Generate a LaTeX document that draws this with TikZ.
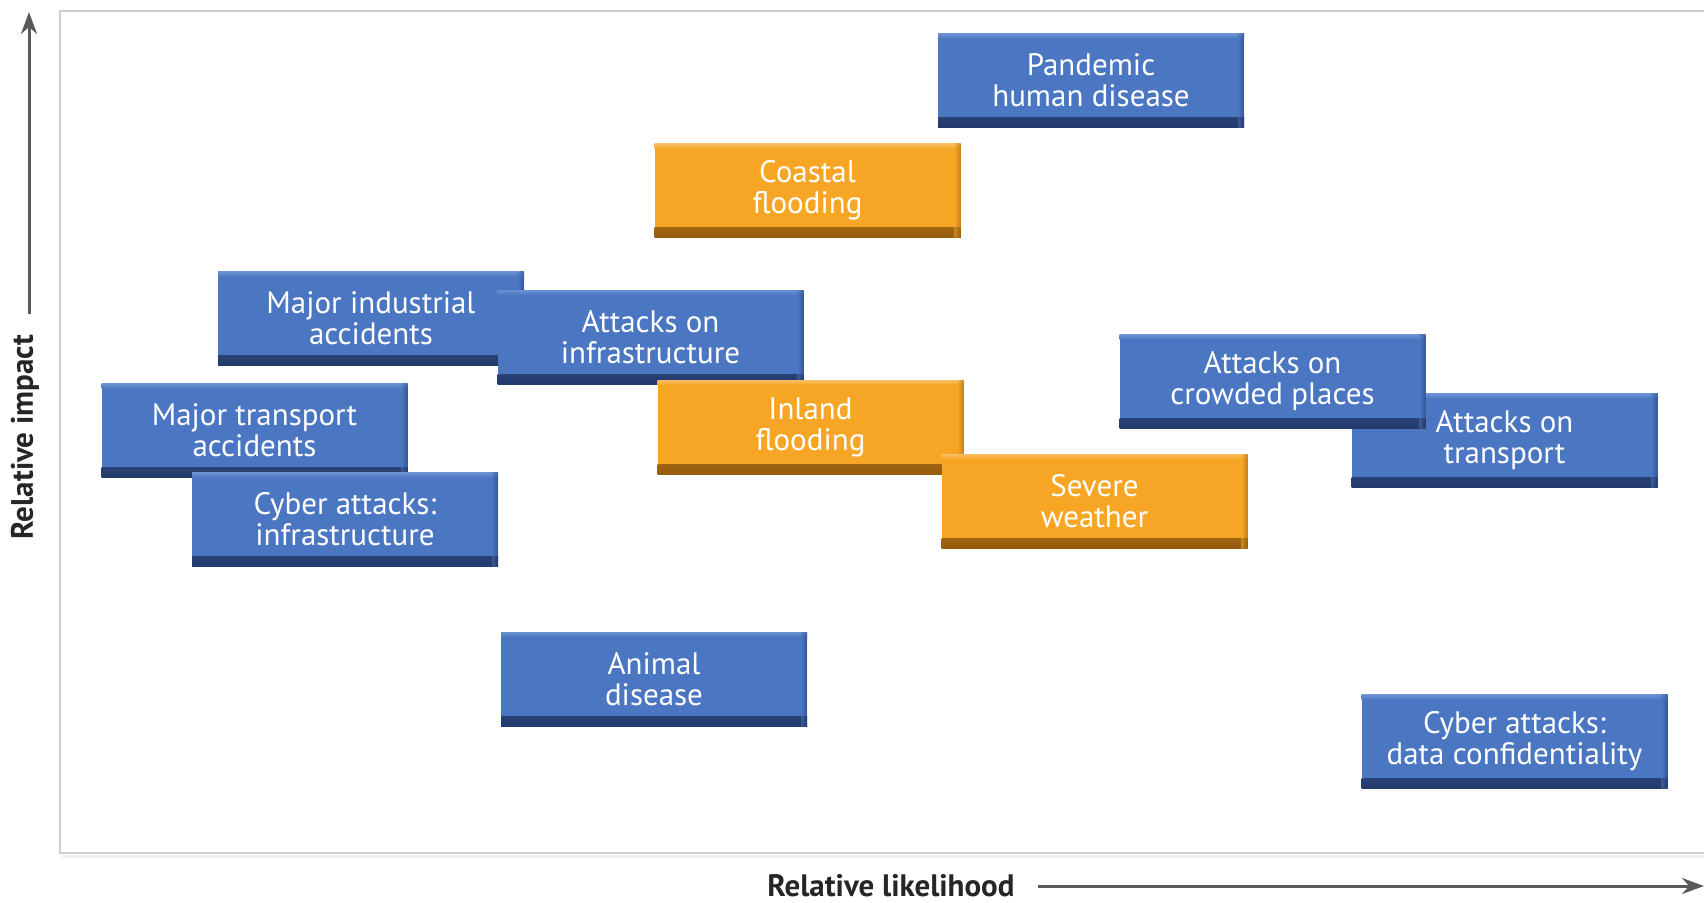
\documentclass[tikz,border=0pt]{standalone}
\usepackage{fontspec}
\setmainfont{PT Sans}
\usetikzlibrary{arrows.meta}
\definecolor{bmain}{RGB}{74,118,194}
\definecolor{bdark}{RGB}{36,58,108}
\definecolor{blight}{RGB}{108,146,212}
\definecolor{omain}{RGB}{246,166,36}
\definecolor{odark}{RGB}{150,92,14}
\definecolor{olight}{RGB}{250,192,100}
\definecolor{framegray}{RGB}{205,205,205}
\definecolor{axisgray}{RGB}{90,90,90}
\tikzset{
  riskbox/.style={rectangle, minimum width=153pt, minimum height=47pt, inner sep=0pt,
    align=center, text=white, font=\fontsize{15.5}{15.5}\selectfont,
    fill=#1main,
    path picture={
      \shade[top color=#1main, bottom color=#1dark]
        ([yshift=5pt]path picture bounding box.south west) rectangle (path picture bounding box.south east);
      \shade[top color=#1light, bottom color=#1main]
        (path picture bounding box.north west) rectangle ([yshift=-2.5pt]path picture bounding box.north east);
      \shade[left color=#1main, right color=#1dark, opacity=0.5]
        ([xshift=-3pt]path picture bounding box.south east) rectangle (path picture bounding box.north east);
    }},
  bluebox/.style={riskbox=b},
  orangebox/.style={riskbox=o},
  axislabel/.style={font=\bfseries\fontsize{15.5}{17}\selectfont, text=black!85},
  axisarrow/.style={draw=axisgray, line width=1.5pt, -{Stealth[length=11pt,width=8pt]}},
}
\begin{document}
\begin{tikzpicture}[x=0.5pt,y=-0.5pt]
\useasboundingbox (0,0) rectangle (1704,902);
\fill[white] (0,0) rectangle (1704,902);
% frame
\draw[framegray, line width=1pt] (1704,11) -- (60,11) -- (60,853) -- (1704,853);
\draw[black!6, line width=1.5pt] (62,856) -- (1704,856);
% boxes
\node[bluebox] (pandemic) at (1091,80.5) {Pandemic\\human disease};
\node[orangebox] (coastal) at (807.5,190.5) {Coastal\\flooding};
\node[bluebox] (industrial) at (371,318.5) {Major industrial\\accidents};
\node[bluebox] (infra) at (650.5,337) {Attacks on\\infrastructure};
\node[bluebox] (transportacc) at (254.5,430.5) {Major transport\\accidents};
\node[bluebox] (cyberinfra) at (345,519.5) {Cyber attacks:\\infrastructure};
\node[orangebox] (inland) at (810.5,427) {Inland\\flooding};
\node[orangebox] (severe) at (1094.5,501) {Severe\\weather};
\node[bluebox] (transport) at (1504.5,440.5) {Attacks on\\transport};
\node[bluebox] (crowded) at (1272.5,381.5) {Attacks on\\crowded places};
\node[bluebox] (animal) at (654,679) {Animal\\disease};
\node[bluebox] (cyberdata) at (1514.5,741.5) {Cyber attacks:\\data confidentiality};
% axes
\node[axislabel, rotate=90] (ylab) at (25,437) {Relative impact};
\coordinate (ytip) at (29,12);
\draw[axisarrow] (29,314) -- (ytip);
\node[axislabel] (xlab) at (891,886) {Relative likelihood};
\coordinate (xtip) at (1704,886);
\draw[axisarrow] ([xshift=8pt]xlab.east) -- (xtip);
\end{tikzpicture}
\end{document}
